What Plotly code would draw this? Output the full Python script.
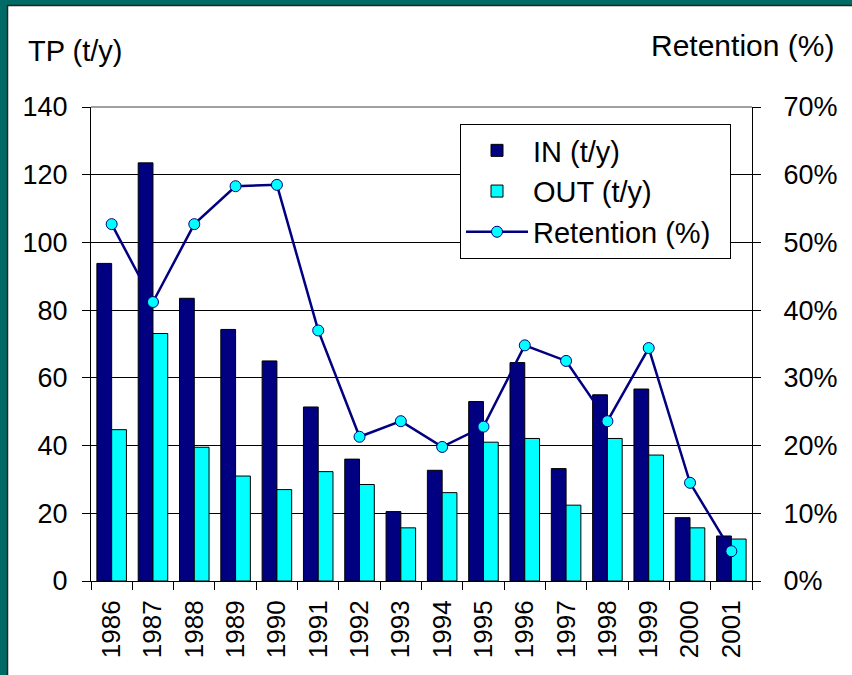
import plotly.graph_objects as go

years = ["1986", "1987", "1988", "1989", "1990", "1991", "1992", "1993",
         "1994", "1995", "1996", "1997", "1998", "1999", "2000", "2001"]
tp_in = [93.8, 123.5, 83.5, 74.3, 65.0, 51.4, 36.0, 20.5,
         32.7, 53.0, 64.5, 33.2, 55.0, 56.7, 18.7, 13.3]
tp_out = [44.7, 73.1, 39.5, 31.0, 27.0, 32.3, 28.5, 15.7,
          26.1, 41.0, 42.1, 22.4, 42.1, 37.2, 15.7, 12.4]
retention = [0.527, 0.412, 0.527, 0.583, 0.585, 0.370, 0.213, 0.236,
             0.198, 0.228, 0.348, 0.325, 0.236, 0.344, 0.145, 0.044]

FONT = "Liberation Sans, Arial, sans-serif"
TEAL = "#006b66"
DARK = "#222222"
W, H = 852, 675
L, R, T, B = 91, 100, 107, 94
PW, PH = W - L - R, H - T - B


def px_x(p):
    return (p - L) / PW


def px_y(p):
    return (H - B - p) / PH


fig = go.Figure()
fig.add_trace(go.Bar(x=years, y=tp_in, name="IN (t/y)", legendgroup="a",
                     marker=dict(color="#000080", line=dict(color="#000000", width=1))))
fig.add_trace(go.Bar(x=years, y=tp_out, name="OUT (t/y)", legendgroup="b",
                     marker=dict(color="#00FFFF", line=dict(color="#000000", width=1))))
fig.add_trace(go.Scatter(x=years, y=retention, name="Retention (%)\u2002", yaxis="y2",
                         legendgroup="c", mode="lines+markers",
                         line=dict(color="#000080", width=2.5),
                         marker=dict(color="#00FFFF", size=11,
                                     line=dict(color="#000080", width=1))))

fig.update_layout(
    width=W, height=H,
    margin=dict(l=L, r=R, t=T, b=B),
    paper_bgcolor="white",
    plot_bgcolor="white",
    font=dict(family=FONT, size=27, color="black"),
    barmode="group", bargap=0.285, bargroupgap=0,
    showlegend=True,
    legend=dict(x=px_x(460), y=px_y(124), xanchor="left", yanchor="top",
                bgcolor="white", bordercolor="black", borderwidth=1,
                itemwidth=62,
                font=dict(family=FONT, size=29), tracegroupgap=0),
    xaxis=dict(type="category", range=[-0.5, 15.5], tickangle=-90,
               tickson="boundaries", ticks="outside", ticklen=8, tickcolor="black",
               showline=True, linecolor="black", linewidth=1, showgrid=False,
               ticklabelstandoff=8, tickfont=dict(size=26)),
    yaxis=dict(range=[0, 140], dtick=20, ticks="outside", ticklen=8, tickcolor="black",
               showline=True, linecolor="black", linewidth=1,
               showgrid=True, gridcolor="black", gridwidth=1, zeroline=False,
               ticklabelstandoff=9, tickfont=dict(size=27)),
    yaxis2=dict(range=[0, 0.7], dtick=0.1, tickformat=".0%", overlaying="y", side="right",
                ticks="outside", ticklen=8, tickcolor="black",
                showline=True, linecolor="black", linewidth=1, showgrid=False,
                zeroline=False, ticklabelstandoff=17, tickfont=dict(size=27)),
    shapes=[
        dict(type="rect", xref="paper", yref="paper", layer="below",
             x0=px_x(0), x1=px_x(7), y0=px_y(675), y1=px_y(0),
             fillcolor=TEAL, line=dict(width=0)),
        dict(type="rect", xref="paper", yref="paper", layer="below",
             x0=px_x(0), x1=px_x(852), y0=px_y(5), y1=px_y(0),
             fillcolor=TEAL, line=dict(width=0)),
        dict(type="line", xref="paper", yref="paper", layer="below",
             x0=px_x(7.5), x1=px_x(7.5), y0=px_y(675), y1=px_y(5),
             line=dict(color=DARK, width=1.5)),
        dict(type="line", xref="paper", yref="paper", layer="below",
             x0=px_x(7), x1=px_x(852), y0=px_y(5.5), y1=px_y(5.5),
             line=dict(color=DARK, width=1.5)),
        dict(type="line", xref="paper", yref="paper", layer="above",
             x0=0, x1=1, y0=1, y1=1, line=dict(color="#808080", width=1.5)),
    ],
    annotations=[
        dict(text="TP (t/y)", xref="paper", yref="paper", x=px_x(26), y=px_y(51),
             xanchor="left", yanchor="middle", showarrow=False, font=dict(size=29)),
        dict(text="Retention (%)", xref="paper", yref="paper", x=px_x(836), y=px_y(46),
             xanchor="right", yanchor="middle", showarrow=False, font=dict(size=30)),
    ],
)

fig.write_html("out.html", config={"displayModeBar": False},
               post_script="document.body.style.margin='0px';document.body.style.overflow='hidden';")
